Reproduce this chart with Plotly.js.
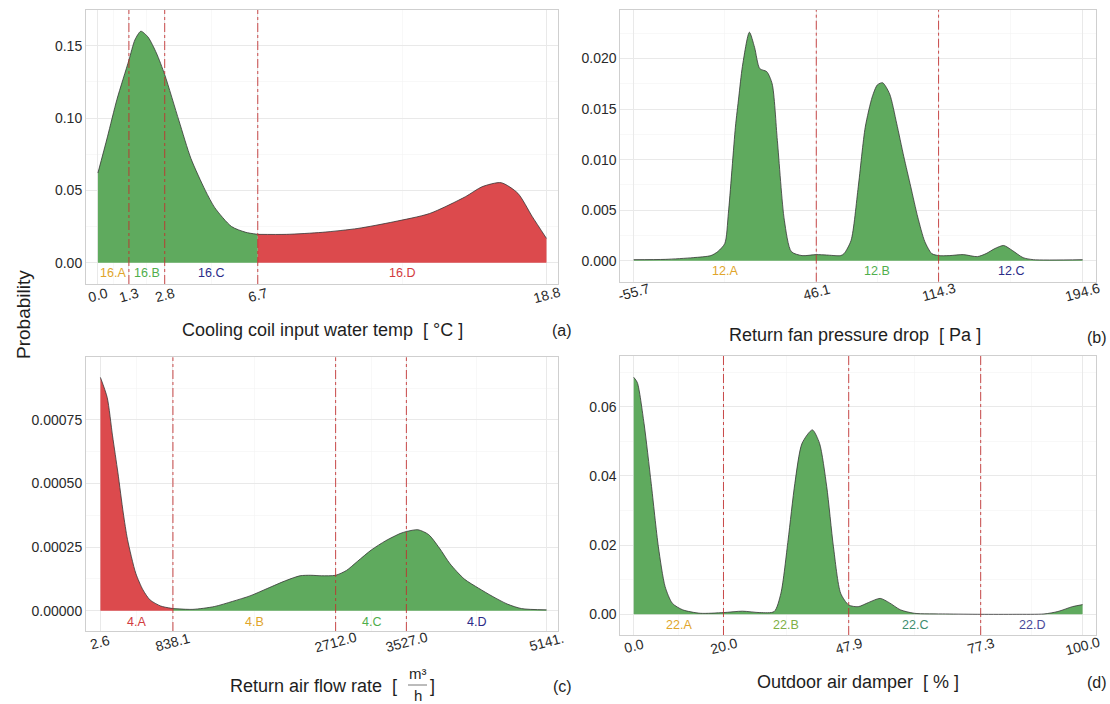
<!DOCTYPE html>
<html><head><meta charset="utf-8">
<script src="https://cdn.plot.ly/plotly-3.0.1.min.js"></script>
<style>html,body{margin:0;padding:0;background:#fff}#chart{width:1110px;height:704px}</style>
</head><body><div id="chart"></div>
<script>
// ---------- DATA ----------
// (a) Cooling coil input water temp
const aGreenX = [0, 0.4, 0.8, 1.3, 1.55, 1.8, 2.1, 2.45, 2.8, 3.4, 3.9, 4.5, 4.9, 5.6, 6.2, 6.7];
const aGreenY = [0.062, 0.087, 0.113, 0.140, 0.154, 0.160, 0.156, 0.145, 0.130, 0.098, 0.072, 0.050, 0.038, 0.025, 0.021, 0.0196];
const aRedX = [6.7, 7.9, 9.4, 10.9, 12.4, 13.9, 15.4, 16.1, 16.9, 17.6, 18.2, 18.8];
const aRedY = [0.0196, 0.0196, 0.021, 0.0237, 0.0283, 0.034, 0.0456, 0.0525, 0.0553, 0.048, 0.032, 0.0168];
const aBounds = [0, 1.3, 2.8, 6.7, 18.8];
const aTickText = ['0.0', '1.3', '2.8', '6.7', '18.8'];
const aRegions = ['16.A', '16.B', '16.C', '16.D'];

// (b) Return fan pressure drop
const bX = [-55.7, -38.1, -22.5, -12.7, -8.8, -4.9, -2.9, 1.0, 2.9, 4.9, 8.8, 11.7, 14.6, 18.5, 21.5, 24.4, 28.3, 32.2, 38.2, 46.0, 51.8, 59.7, 61.6, 65.5, 69.5, 73.4, 77.3, 80.2, 83.1, 87.0, 90.9, 94.9, 98.8, 102.7, 106.6, 110.5, 114.4, 120.2, 128.1, 135.9, 140.8, 145.7, 150.6, 155.5, 161.4, 167.2, 194.6];
const bY = [0.0001, 0.00013, 0.0003, 0.0005, 0.0009, 0.0017, 0.0047, 0.0132, 0.0162, 0.0192, 0.0226, 0.0211, 0.0190, 0.0187, 0.0175, 0.0119, 0.0040, 0.0009, 0.0005, 0.0006, 0.00056, 0.0005, 0.0007, 0.0020, 0.0073, 0.0132, 0.0162, 0.0174, 0.0176, 0.0165, 0.0136, 0.0103, 0.0073, 0.0043, 0.0019, 0.0007, 0.0005, 0.0005, 0.0006, 0.0004, 0.0007, 0.0012, 0.0015, 0.0010, 0.0003, 0.0001, 0.0001];
const bBounds = [-55.7, 46.1, 114.3, 194.6];
const bTickText = ['-55.7', '46.1', '114.3', '194.6'];
const bRegions = ['12.A', '12.B', '12.C'];

// (c) Return air flow rate
const cRedX = [2.6, 80.8, 142.5, 204.2, 265.9, 315.3, 409.9, 492.2, 574.4, 697.9, 838.1];
const cRedY = [0.000917, 0.000838, 0.000687, 0.000542, 0.000384, 0.000279, 0.000147, 0.000082, 0.000042, 0.000018, 0.000008];
const cGreenX = [838.1, 1068, 1315, 1521, 1726, 1932, 2138, 2302, 2426, 2549, 2712, 2837, 2961, 3125, 3290, 3454, 3527, 3660, 3783, 3907, 4030, 4195, 4359, 4524, 4688, 4853, 5141];
const cGreenY = [0.000008, 0.000005, 0.000016, 0.000036, 0.000058, 0.000088, 0.000118, 0.000137, 0.000139, 0.000137, 0.000139, 0.000158, 0.000193, 0.000239, 0.000275, 0.000303, 0.000311, 0.000318, 0.000299, 0.000246, 0.000184, 0.000124, 0.000088, 0.000055, 0.000026, 0.000008, 0.000003];
const cBounds = [2.6, 838.1, 2712.0, 3527.0, 5141];
const cTickText = ['2.6', '838.1', '2712.0', '3527.0', '5141.'];
const cRegions = ['4.A', '4.B', '4.C', '4.D'];

// (d) Outdoor air damper
const dX = [0, 0.8, 2.3, 3.9, 5.5, 7.0, 8.6, 10.9, 14.8, 20.0, 24.2, 28.1, 31.3, 32.8, 34.4, 35.9, 37.5, 39.8, 41.4, 43.0, 44.5, 46.1, 47.9, 50.0, 52.3, 54.9, 57.0, 59.4, 62.5, 69.5, 77.3, 85.2, 91.4, 94.5, 97.7, 100];
const dY = [0.0685, 0.0670, 0.0552, 0.0378, 0.0195, 0.0080, 0.0032, 0.0013, 0.0003, 0.0005, 0.0009, 0.0005, 0.0008, 0.0061, 0.0215, 0.0378, 0.0494, 0.0533, 0.0494, 0.0369, 0.0195, 0.0061, 0.0027, 0.0022, 0.0034, 0.0046, 0.0033, 0.0013, 0.0003, 0.0001, 0.0000, 0.0000, 0.0001, 0.0008, 0.0022, 0.0028];
const dBounds = [0.0, 20.0, 47.9, 77.3, 100.0];
const dTickText = ['0.0', '20.0', '47.9', '77.3', '100.0'];
const dRegions = ['22.A', '22.B', '22.C', '22.D'];

// ---------- STYLE / LAYOUT ----------
const W = 1110, H = 704;
const GREEN = '#5FAA5E', RED = '#DC4A4D';
const GOLD = '#E0A52B', LGREEN = '#4FAE4C', NAVY = '#2B2B88', TRED = '#D23B3E';
const FONT = 'Liberation Sans, Arial, sans-serif';

const panels = [
  {id: '', left: 86, right: 558, top: 10, bottom: 284, xr: [-0.499, 19.283], yr: [-0.01472, 0.1747], ydt: 0.05, yfmt: '.2f',
   bounds: aBounds, ticks: aTickText, regions: aRegions, rcol: [GOLD, LGREEN, NAVY, TRED], labFrac: 0.041},
  {id: '2', left: 620.3, right: 1095.6, top: 10, bottom: 281.7, xr: [-63.17, 201.85], yr: [-0.00208, 0.0248], ydt: 0.005, yfmt: '.3f',
   bounds: bBounds, ticks: bTickText, regions: bRegions, rcol: [GOLD, LGREEN, NAVY], labFrac: 0.040},
  {id: '3', left: 86, right: 558, top: 357.3, bottom: 631, xr: [-163.3, 5273.3], yr: [-0.0000801, 0.000996], ydt: 0.00025, yfmt: '.5f',
   bounds: cBounds, ticks: cTickText, regions: cRegions, rcol: [TRED, GOLD, LGREEN, NAVY], labFrac: 0.034},
  {id: '4', left: 620.3, right: 1095.6, top: 356, bottom: 635, xr: [-2.985, 102.9], yr: [-0.00598, 0.07465], ydt: 0.02, yfmt: '.2f',
   bounds: dBounds, ticks: dTickText, regions: dRegions, rcol: [GOLD, '#80AF45', '#3D8C6E', '#48489A'], labFrac: 0.036}
];

function area(x, y, col, id) {
  return {x: x, y: y, type: 'scatter', mode: 'lines', fill: 'tozeroy', fillcolor: col,
    line: {shape: 'spline', smoothing: 0.7, color: '#353535', width: 0.8},
    xaxis: 'x' + id, yaxis: 'y' + id, hoverinfo: 'skip', showlegend: false};
}

const data = [
  area(aGreenX, aGreenY, GREEN, ''),
  area(aRedX, aRedY, RED, ''),
  area(bX, bY, GREEN, '2'),
  area(cRedX, cRedY, RED, '3'),
  area(cGreenX, cGreenY, GREEN, '3'),
  area(dX, dY, GREEN, '4')
];

const layout = {
  width: W, height: H, margin: {l: 0, r: 0, t: 0, b: 0},
  paper_bgcolor: '#fff', plot_bgcolor: '#fff',
  font: {family: FONT, size: 14, color: '#333'},
  showlegend: false, shapes: [], annotations: []
};

panels.forEach(p => {
  const mids = [];
  for (let i = 0; i < p.bounds.length - 1; i++) mids.push((p.bounds[i] + p.bounds[i + 1]) / 2);
  layout['xaxis' + p.id] = {
    domain: [p.left / W, p.right / W], range: p.xr, anchor: 'y' + p.id,
    tickmode: 'array', tickvals: p.bounds, showticklabels: false, ticks: '',
    showgrid: true, gridcolor: '#e9e9e9', gridwidth: 1, zeroline: false,
    minor: {tickmode: 'array', tickvals: mids, showgrid: true, gridcolor: '#f4f4f4', gridwidth: 0.6},
    showline: true, mirror: true, linecolor: '#cfcfcf', linewidth: 1, fixedrange: true
  };
  layout['yaxis' + p.id] = {
    domain: [1 - p.bottom / H, 1 - p.top / H], range: p.yr, anchor: 'x' + p.id,
    tick0: 0, dtick: p.ydt, tickformat: p.yfmt, ticks: '',
    tickfont: {family: FONT, size: 14, color: '#2a2a2a'},
    showgrid: true, gridcolor: '#e9e9e9', gridwidth: 1, zeroline: false,
    minor: {tick0: 0, dtick: p.ydt / 2, showgrid: true, gridcolor: '#f4f4f4', gridwidth: 0.6},
    showline: true, mirror: true, linecolor: '#cfcfcf', linewidth: 1, fixedrange: true
  };
  for (let i = 1; i < p.bounds.length - 1; i++) {
    layout.shapes.push({type: 'line', xref: 'x' + p.id, yref: 'y' + p.id + ' domain',
      x0: p.bounds[i], x1: p.bounds[i], y0: 0, y1: 1,
      line: {color: 'rgba(195,45,45,0.85)', width: 1, dash: 'dashdot'}});
  }
  p.bounds.forEach((b, i) => {
    layout.annotations.push({xref: 'x' + p.id, yref: 'paper', x: b, y: 1 - (p.bottom + 10.5) / H,
      text: p.ticks[i], showarrow: false, textangle: -15, xanchor: 'center', yanchor: 'middle',
      font: {family: FONT, size: 14, color: '#2a2a2a'}});
  });
  p.regions.forEach((r, i) => {
    layout.annotations.push({xref: 'x' + p.id, yref: 'y' + p.id + ' domain', x: mids[i], y: p.labFrac,
      text: r, showarrow: false, xanchor: 'center', yanchor: 'middle',
      font: {family: FONT, size: 12.5, color: p.rcol[i]}});
  });
});

function txt(text, xpx, ypx, size, extra) {
  return Object.assign({xref: 'paper', yref: 'paper', x: xpx / W, y: 1 - ypx / H, text: text,
    showarrow: false, xanchor: 'center', yanchor: 'middle', font: {family: FONT, size: size, color: '#1e1e1e'}}, extra || {});
}
layout.annotations.push(
  txt('Cooling coil input water temp  [ °C ]', 322, 330, 18),
  txt('Return fan pressure drop  [ Pa ]', 855, 335, 18),
  txt('Return air flow rate  [', 399, 686, 18, {xanchor: 'right'}),
  txt('m³', 417.5, 673, 15),
  txt('h', 417.5, 695, 15),
  txt(']', 432, 686, 18),
  txt('Outdoor air damper  [ % ]', 858, 682, 18),
  txt('(a)', 562, 330, 16),
  txt('(b)', 1097, 337, 16),
  txt('(c)', 562, 686, 16),
  txt('(d)', 1097, 682, 16),
  txt('Probability', 23, 315, 19, {textangle: -90})
);
layout.shapes.push({type: 'line', xref: 'paper', yref: 'paper', x0: 408 / W, x1: 427 / W,
  y0: 1 - 685 / H, y1: 1 - 685 / H, line: {color: '#555', width: 0.8}});

Plotly.newPlot('chart', data, layout, {staticPlot: true, displayModeBar: false});
</script>
</body></html>
